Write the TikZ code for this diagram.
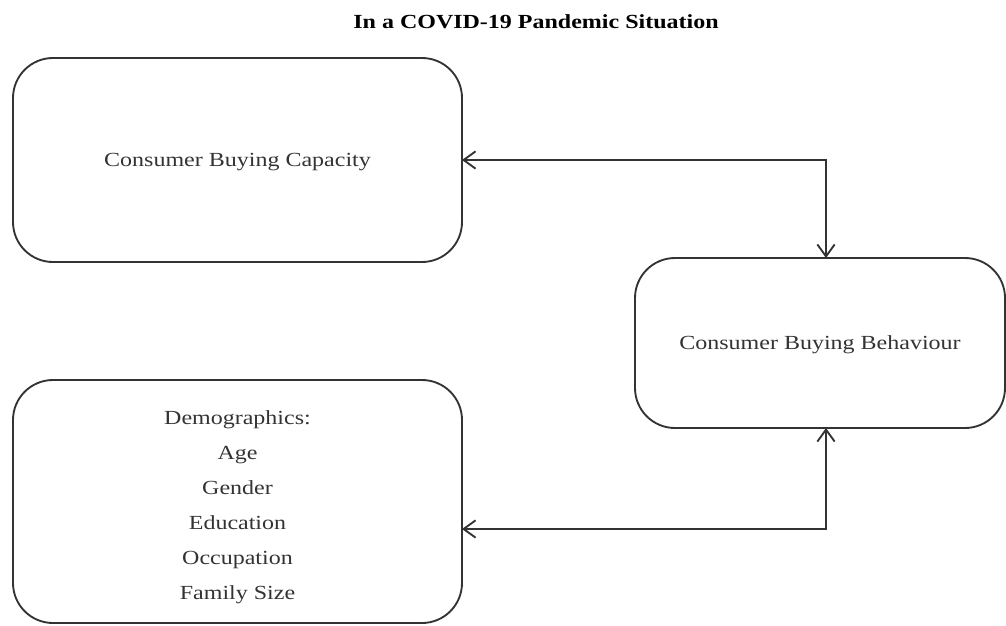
\documentclass[tikz,border=0pt]{standalone}
\usepackage{fontspec}
\setmainfont[FakeStretch=1.2]{Liberation Serif}
\usetikzlibrary{arrows.meta}
\definecolor{ink}{HTML}{333333}
\tikzset{
  box/.style={draw=ink, line width=1.4pt, rounded corners=30pt, inner sep=0pt, outer sep=0pt,
    text=ink, font=\fontsize{15}{26.25}\selectfont, align=center},
  link/.style={draw=ink, line width=1.4pt, {Straight Barb[length=9pt,width=13pt]}-{Straight Barb[length=9pt,width=13pt]}},
}
\begin{document}
\begin{tikzpicture}[x=0.75pt,y=-0.75pt]
\useasboundingbox (0,0) rectangle (1006,625);
\node[font=\fontsize{15}{18}\selectfont\bfseries] (title) at (536,22) {In a COVID-19 Pandemic Situation};
\node[box, text depth=0pt, minimum width=336.75pt, minimum height=153pt] (cap) at (237.5,160) {Consumer Buying Capacity};
\node[box, text depth=0pt, minimum width=277.5pt, minimum height=127.5pt] (beh) at (820,343) {Consumer Buying Behaviour};
\node[box, minimum width=336.75pt, minimum height=182.25pt] (dem) at (237.5,501.5)
  {\rule{0pt}{19.5pt}Demographics:\\Age\\Gender\\Education\\Occupation\\Family Size};
\coordinate (j1) at (826,160);
\coordinate (j2) at (826,529);
\draw[link] (cap.east |- j1) -| (beh.north -| j1);
\draw[link] (dem.east |- j2) -| (beh.south -| j2);
\end{tikzpicture}
\end{document}
